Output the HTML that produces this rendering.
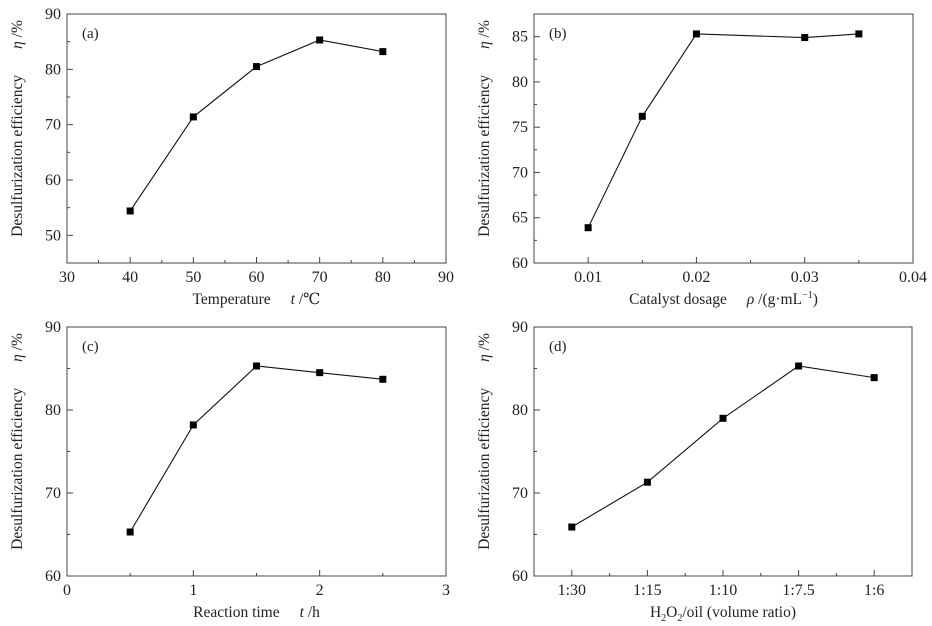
<!DOCTYPE html>
<html><head><meta charset="utf-8"><style>
body{margin:0;background:#fff;}
svg{display:block;font-family:"Liberation Serif","DejaVu Serif",serif;}
</style></head><body>
<svg id="fig" width="932" height="626" xmlns="http://www.w3.org/2000/svg"></svg>
<script>
const aX=[40,50,60,70,80];
const aY=[54.4,71.4,80.5,85.3,83.2];
const aXTicks=[30,40,50,60,70,80,90];
const aYTicks=[50,60,70,80,90];
const bX=[0.01,0.015,0.02,0.03,0.035];
const bY=[63.9,76.2,85.3,84.9,85.3];
const bXTicks=[0.01,0.02,0.03,0.04];
const bYTicks=[60,65,70,75,80,85];
const cX=[0.5,1,1.5,2,2.5];
const cY=[65.3,78.2,85.3,84.5,83.7];
const cXTicks=[0,1,2,3];
const cYTicks=[60,70,80,90];
const dCats=["1:30","1:15","1:10","1:7.5","1:6"];
const dY=[65.9,71.3,79.0,85.3,83.9];
const dYTicks=[60,70,80,90];

const NS="http://www.w3.org/2000/svg";
const svg=document.getElementById('fig');
function el(t,a,p){const e=document.createElementNS(NS,t);for(const k in a)e.setAttribute(k,a[k]);(p||svg).appendChild(e);return e;}

function panel(o){
  const g=el('g',{});
  
  
  const L=o.x0,R=o.x1,T=o.y0,B=o.y1;
  const sx=v=>L+(v-o.xmin)/(o.xmax-o.xmin)*(R-L);
  const sy=v=>B-(v-o.ymin)/(o.ymax-o.ymin)*(B-T);
  const box=el('rect',{x:L,y:T,width:R-L,height:B-T,fill:'none',stroke:'#444','stroke-width':1},g);
  
  
  o.xTicks.forEach((v,i)=>{
    const x=sx(v);
    el('line',{x1:x,x2:x,y1:B,y2:B-6,stroke:'#444'},g);
    const t=el('text',{x:x,y:B+19,'text-anchor':'middle','font-size':16,fill:'#222'},g);
    t.textContent=o.xLabels?o.xLabels[i]:v;
    
    
  });
  o.xMinor.forEach(v=>{const x=sx(v);el('line',{x1:x,x2:x,y1:B,y2:B-3,stroke:'#444'},g);});
  o.yTicks.forEach(v=>{
    const y=sy(v);
    el('line',{x1:L,x2:L+6,y1:y,y2:y,stroke:'#444'},g);
    const t=el('text',{x:L-6,y:y+5,'text-anchor':'end','font-size':16,fill:'#222'},g);
    t.textContent=v;
    
    
  });
  o.yMinor.forEach(v=>{const y=sy(v);el('line',{x1:L,x2:L+3,y1:y,y2:y,stroke:'#444'},g);});
  const pts=o.xs.map((v,i)=>sx(v)+','+sy(o.ys[i])).join(' ');
  const pl=el('polyline',{points:pts,fill:'none',stroke:'#111','stroke-width':1.1},g);
  
  
  o.xs.forEach((v,i)=>{
    const r=el('rect',{x:sx(v)-3.5,y:sy(o.ys[i])-3.5,width:7,height:7,fill:'#000'},g);
    
    
  });
  const lab=el('text',{x:L+15,y:T+24,'font-size':15,fill:'#222'},g);
  lab.textContent='('+o.id+')';
  
  
  const cy=(T+B)/2-10;
  const yt=el('text',{transform:`translate(${L-45},${cy}) rotate(-90)`,'text-anchor':'middle','font-size':15.5,fill:'#222'},g);
  yt.innerHTML='Desulfurization efficiency<tspan dx="26" font-style="italic">η</tspan> /%';
  
  
  const xt=el('text',{x:(L+R)/2,y:B+41,'text-anchor':'middle','font-size':15.5,fill:'#222'},g);
  xt.innerHTML=o.xTitle;
  
  
}
panel({id:'a',x0:67,x1:446,y0:14,y1:263,xmin:30,xmax:90,ymin:45,ymax:90,xs:aX,ys:aY,xTicks:aXTicks,xMinor:[35,45,55,65,75,85],yTicks:aYTicks,yMinor:[55,65,75,85],xTitle:'Temperature<tspan dx="20" font-style="italic">t</tspan> /℃'});
panel({id:'b',x0:534,x1:913,y0:14,y1:263,xmin:0.005,xmax:0.04,ymin:60,ymax:87.5,xs:bX,ys:bY,xTicks:bXTicks,xMinor:[0.015,0.025,0.035],yTicks:bYTicks,yMinor:[62.5,67.5,72.5,77.5,82.5,87.5],xTitle:'Catalyst dosage<tspan dx="20" font-style="italic">ρ</tspan> /(g·mL<tspan dy="-6" font-size="10">−1</tspan><tspan dy="6">)</tspan>'});
panel({id:'c',x0:67,x1:446,y0:327,y1:576,xmin:0,xmax:3,ymin:60,ymax:90,xs:cX,ys:cY,xTicks:cXTicks,xMinor:[0.5,1.5,2.5],yTicks:cYTicks,yMinor:[65,75,85],xTitle:'Reaction time<tspan dx="20" font-style="italic">t</tspan> /h'});
panel({id:'d',x0:534,x1:912,y0:327,y1:576,xmin:-0.5,xmax:4.5,ymin:60,ymax:90,xs:dCats.map((c,i)=>i),ys:dY,xTicks:dCats.map((c,i)=>i),xLabels:dCats,xMinor:[0.5,1.5,2.5,3.5],yTicks:dYTicks,yMinor:[65,75,85],xTitle:'H<tspan dy="4" font-size="10">2</tspan><tspan dy="-4">O</tspan><tspan dy="4" font-size="10">2</tspan><tspan dy="-4">/oil (volume ratio)</tspan>'});
</script>
</body></html>
